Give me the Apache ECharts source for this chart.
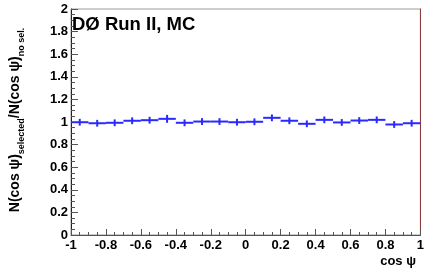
<!DOCTYPE html>
<html><head><meta charset="utf-8">
<script src="https://cdn.jsdelivr.net/npm/echarts@6/dist/echarts.min.js"></script>
<style>html,body{margin:0;padding:0;background:#fff}#c{width:427px;height:273px}</style>
</head><body><div id="c"></div>
<script>
const binCenters = [-0.95,-0.85,-0.75,-0.65,-0.55,-0.45,-0.35,-0.25,-0.15,-0.05,0.05,0.15,0.25,0.35,0.45,0.55,0.65,0.75,0.85,0.95];
const ratio = [0.998,0.989,0.993,1.011,1.016,1.028,0.993,1.004,1.004,0.998,1.002,1.037,1.011,0.984,1.019,0.996,1.013,1.019,0.978,0.989];
const yErr = [0.03,0.03,0.03,0.03,0.03,0.035,0.03,0.03,0.03,0.03,0.03,0.03,0.03,0.03,0.03,0.03,0.03,0.03,0.03,0.03];
const binHalfWidth = 0.05;
const xTicks = ['-1','-0.8','-0.6','-0.4','-0.2','0','0.2','0.4','0.6','0.8','1'];
const yTicks = ['0','0.2','0.4','0.6','0.8','1','1.2','1.4','1.6','1.8','2'];

const data = binCenters.map((x,i)=>[x, ratio[i], yErr[i]]);
const blue = '#2a2aff';
const chart = echarts.init(document.getElementById('c'));
const fontFam = '"Liberation Sans", Arial, Helvetica, sans-serif';
chart.setOption({
  animation:false,
  grid:{left:54,right:5,top:9,bottom:38,show:true,borderColor:'#9a9a9a',borderWidth:1},
  title:{text:'DØ Run II, MC',left:67,top:10,textStyle:{fontFamily:fontFam,fontWeight:'bold',fontSize:18.5,color:'#000'}},
  graphic:[{type:'text',right:11,top:255,style:{text:'cos ψ',font:'bold 13px '+fontFam,fill:'#000'}}],
  xAxis:{type:'value',min:-1,max:1,interval:0.2,
    axisLine:{lineStyle:{color:'#8a3a3a',width:1}},
    axisTick:{inside:true,length:6,lineStyle:{color:'#555'}},
    minorTick:{show:true,splitNumber:4,length:3,lineStyle:{color:'#555'}},
    splitLine:{show:false},
    axisLabel:{margin:4,fontFamily:fontFam,fontWeight:'bold',fontSize:13,color:'#000',
      formatter:(v)=>xTicks[Math.round((v+1)/0.2)]}},
  yAxis:[{type:'value',min:0,max:2,interval:0.2,
    axisLine:{show:true,onZero:false,lineStyle:{color:'#222',width:1}},
    axisTick:{inside:true,length:7,lineStyle:{color:'#555'}},
    minorTick:{show:true,splitNumber:4,length:4,lineStyle:{color:'#555'}},
    splitLine:{show:false},
    axisLabel:{margin:3,fontFamily:fontFam,fontWeight:'bold',fontSize:13,color:'#000',
      formatter:(v)=>yTicks[Math.round(v/0.2)]},
    name:'{m|N(cos ψ)}{s|selected}{m|/N(cos ψ)}{s|no sel.}',
    nameLocation:'middle',nameRotate:90,nameGap:35,
    nameTextStyle:{fontFamily:fontFam,fontWeight:'bold',color:'#000',padding:[0,0,0,4],
      rich:{m:{fontFamily:fontFam,fontWeight:'bold',fontSize:14,lineHeight:16,verticalAlign:'top',color:'#000'},
            s:{fontFamily:fontFam,fontWeight:'bold',fontSize:9,lineHeight:28,verticalAlign:'middle',color:'#000'}}}},
    {type:'value',min:0,max:2,position:'right',
     axisLine:{show:true,onZero:false,lineStyle:{color:'#8a3a3a',width:1}},axisTick:{show:false},axisLabel:{show:false},splitLine:{show:false}}],
  series:[{type:'custom',yAxisIndex:0,data:data,
    renderItem:function(params,api){
      const x=api.value(0),y=api.value(1),e=api.value(2);
      const l=api.coord([x-binHalfWidth,y]),r=api.coord([x+binHalfWidth,y]);
      const t=api.coord([x,y+e]),b=api.coord([x,y-e]);
      const st={stroke:blue,lineWidth:2};
      return {type:'group',children:[
        {type:'line',shape:{x1:l[0],y1:l[1],x2:r[0],y2:r[1]},style:st},
        {type:'line',shape:{x1:t[0],y1:t[1],x2:b[0],y2:b[1]},style:st}]};
    }}]
});
</script></body></html>
